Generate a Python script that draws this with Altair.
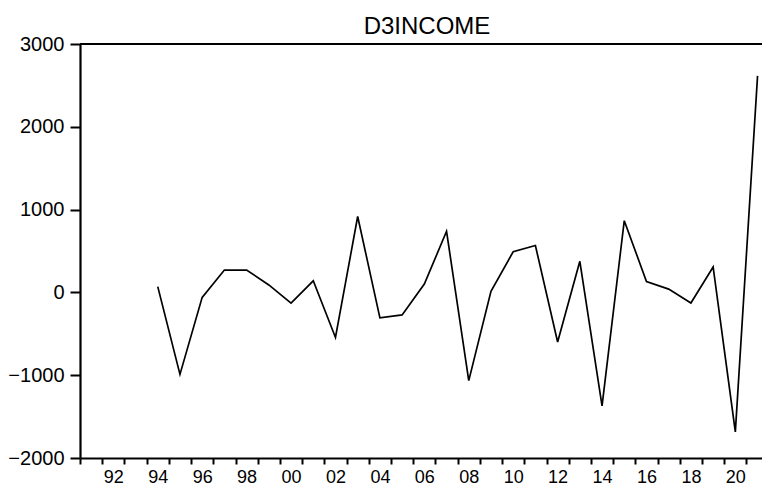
import altair as alt
import pandas as pd

# ---- data ----
years = list(range(1994, 2022))
d3income = [70, -990, -60, 270, 270, 90, -130, 140, -545, 917,
            -308, -272, 100, 738, -1066, 12, 491, 566, -599, 375,
            -1370, 866, 132, 40, -128, 307, -1685, 2615]
y_ticks = [-2000, -1000, 0, 1000, 2000, 3000]
first_year, last_year = 1991, 2021
title_text = "D3INCOME"

df = pd.DataFrame({"year": years, "value": d3income})
# ticks sit at the year boundaries, labels at year centres (EViews style)
tick_bounds = [yr - 0.5 for yr in range(first_year, last_year + 1)]

FONT = "Liberation Sans"
PLOT_W, PLOT_H = 682, 414
x_lo, x_hi = first_year - 0.5, last_year + 0.2
half_year_px = PLOT_W / (x_hi - x_lo) / 2

x_enc = alt.X(
    "year:Q",
    scale=alt.Scale(domain=[x_lo, x_hi], nice=False, zero=False),
    axis=alt.Axis(
        values=tick_bounds,
        labelExpr="(datum.value + 0.5) % 2 == 0 ? format((datum.value + 0.5) % 100, '02d') : ''",
        labelOffset=half_year_px,
        tickSize=6,
        labelPadding=4,
        labelFontSize=18,
        labelOverlap=False,
        labelFlush=False,
        grid=False,
        title=None,
    ),
)
y_enc = alt.Y(
    "value:Q",
    scale=alt.Scale(domain=[y_ticks[0], y_ticks[-1]], nice=False, zero=False),
    axis=alt.Axis(values=y_ticks, format="d", tickSize=10, labelPadding=6, labelFontSize=20,
                  grid=False, title=None, labelOverlap=False, labelFlush=False),
)

line = alt.Chart(df).mark_line(color="black", strokeWidth=1.7).encode(x=x_enc, y=y_enc)
top_rule = alt.Chart(df).mark_rule(color="black", strokeWidth=2.2).encode(y=alt.datum(y_ticks[-1]))

chart = (
    alt.layer(line, top_rule)
    .properties(
        width=PLOT_W,
        height=PLOT_H,
        autosize=alt.AutoSizeParams(type="none"),
        padding={"left": 72, "top": 36, "right": 0, "bottom": 28},
        background="white",
        title=alt.TitleParams(
            title_text, font=FONT, fontSize=24, fontWeight="normal", anchor="middle",
            color="black", baseline="alphabetic", offset=-24, dx=6,
        ),
    )
    .configure_view(stroke=None)
    .configure_axis(
        domainColor="black", domainWidth=2.2, tickColor="black", tickWidth=2,
        labelFont=FONT, labelColor="black",
    )
)

chart.save("out.html", embed_options={"renderer": "svg", "actions": False})
